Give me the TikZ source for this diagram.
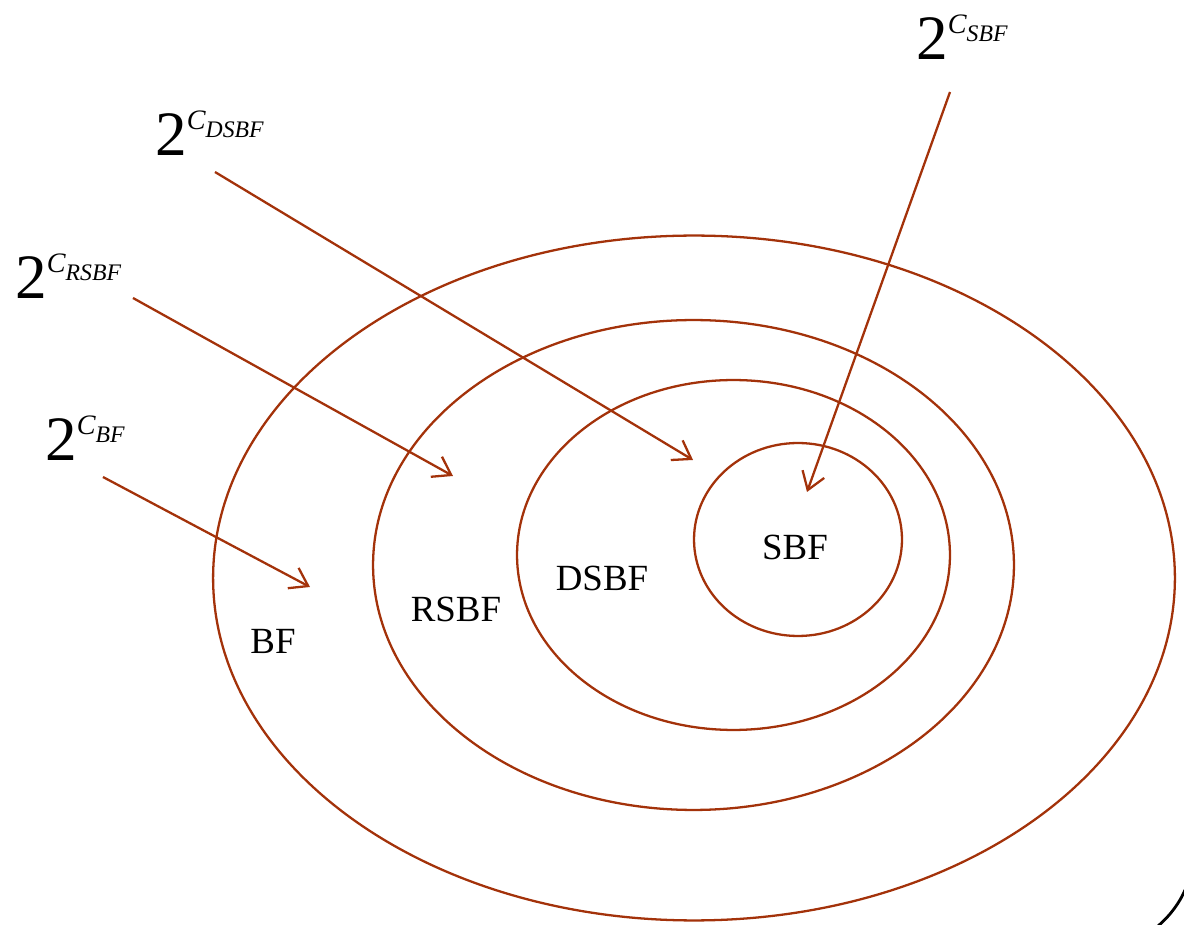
\documentclass[tikz,border=0pt]{standalone}
\usepackage{fontspec}
\setmainfont{Liberation Serif}
\usetikzlibrary{arrows.meta}
\definecolor{rust}{RGB}{163,50,10}
\newcommand{\powlabel}[1]{{\fontsize{36}{36}\selectfont 2}\raisebox{14.8pt}{\fontsize{16}{16}\selectfont\itshape C\raisebox{-4.5pt}{\fontsize{13.5}{13.5}\selectfont #1}}}

\begin{document}
\begin{tikzpicture}[
  x=0.02cm,y=-0.02cm,
  ring/.style={draw=rust,line width=1.3pt},
  cls/.style={font=\fontsize{21}{21}\selectfont,inner sep=0pt},
  pw/.style={anchor=base west,inner sep=0pt},
  arr/.style={draw=rust,line width=1.3pt,-{Straight Barb[length=3.4mm,width=4.6mm]}}
]
\useasboundingbox (0,0) rectangle (1184,925);
% Nested sets
\draw[ring] (694,578) ellipse [x radius=9.62cm,y radius=6.85cm];
\draw[ring] (693.5,565) ellipse [x radius=6.41cm,y radius=4.9cm];
\draw[ring] (733.5,555) ellipse [x radius=4.33cm,y radius=3.5cm];
\draw[ring] (798,539.5) ellipse [x radius=2.08cm,y radius=1.93cm];
\node[cls] (bf) at (273,641) {BF};
\node[cls] (rsbf) at (456,609) {RSBF};
\node[cls] (dsbf) at (602,578) {DSBF};
\node[cls] (sbf) at (795,547) {SBF};
% Power set labels
\node[pw] (pbf) at (45,461) {\powlabel{BF}};
\node[pw] (prsbf) at (15,299) {\powlabel{RSBF}};
\node[pw] (pdsbf) at (155,156) {\powlabel{DSBF}};
\node[pw] (psbf) at (916,60) {\powlabel{SBF}};
\coordinate (bf-s) at (103,477);
\coordinate (bf-t) at (310,587);
\coordinate (rsbf-s) at (133,298);
\coordinate (rsbf-t) at (453,476);
\coordinate (dsbf-s) at (215,172);
\coordinate (dsbf-t) at (693,460);
\coordinate (sbf-s) at (950,92);
\coordinate (sbf-t) at (807,492);

\draw[arr] (bf-s) -- (bf-t);
\draw[arr] (rsbf-s) -- (rsbf-t);
\draw[arr] (dsbf-s) -- (dsbf-t);
\draw[arr] (sbf-s) -- (sbf-t);
% cut-off edge, bottom right
\draw[line width=1.6pt] (1158,926) .. controls (1170,916) and (1180,902) .. (1185,890);
\end{tikzpicture}
\end{document}
